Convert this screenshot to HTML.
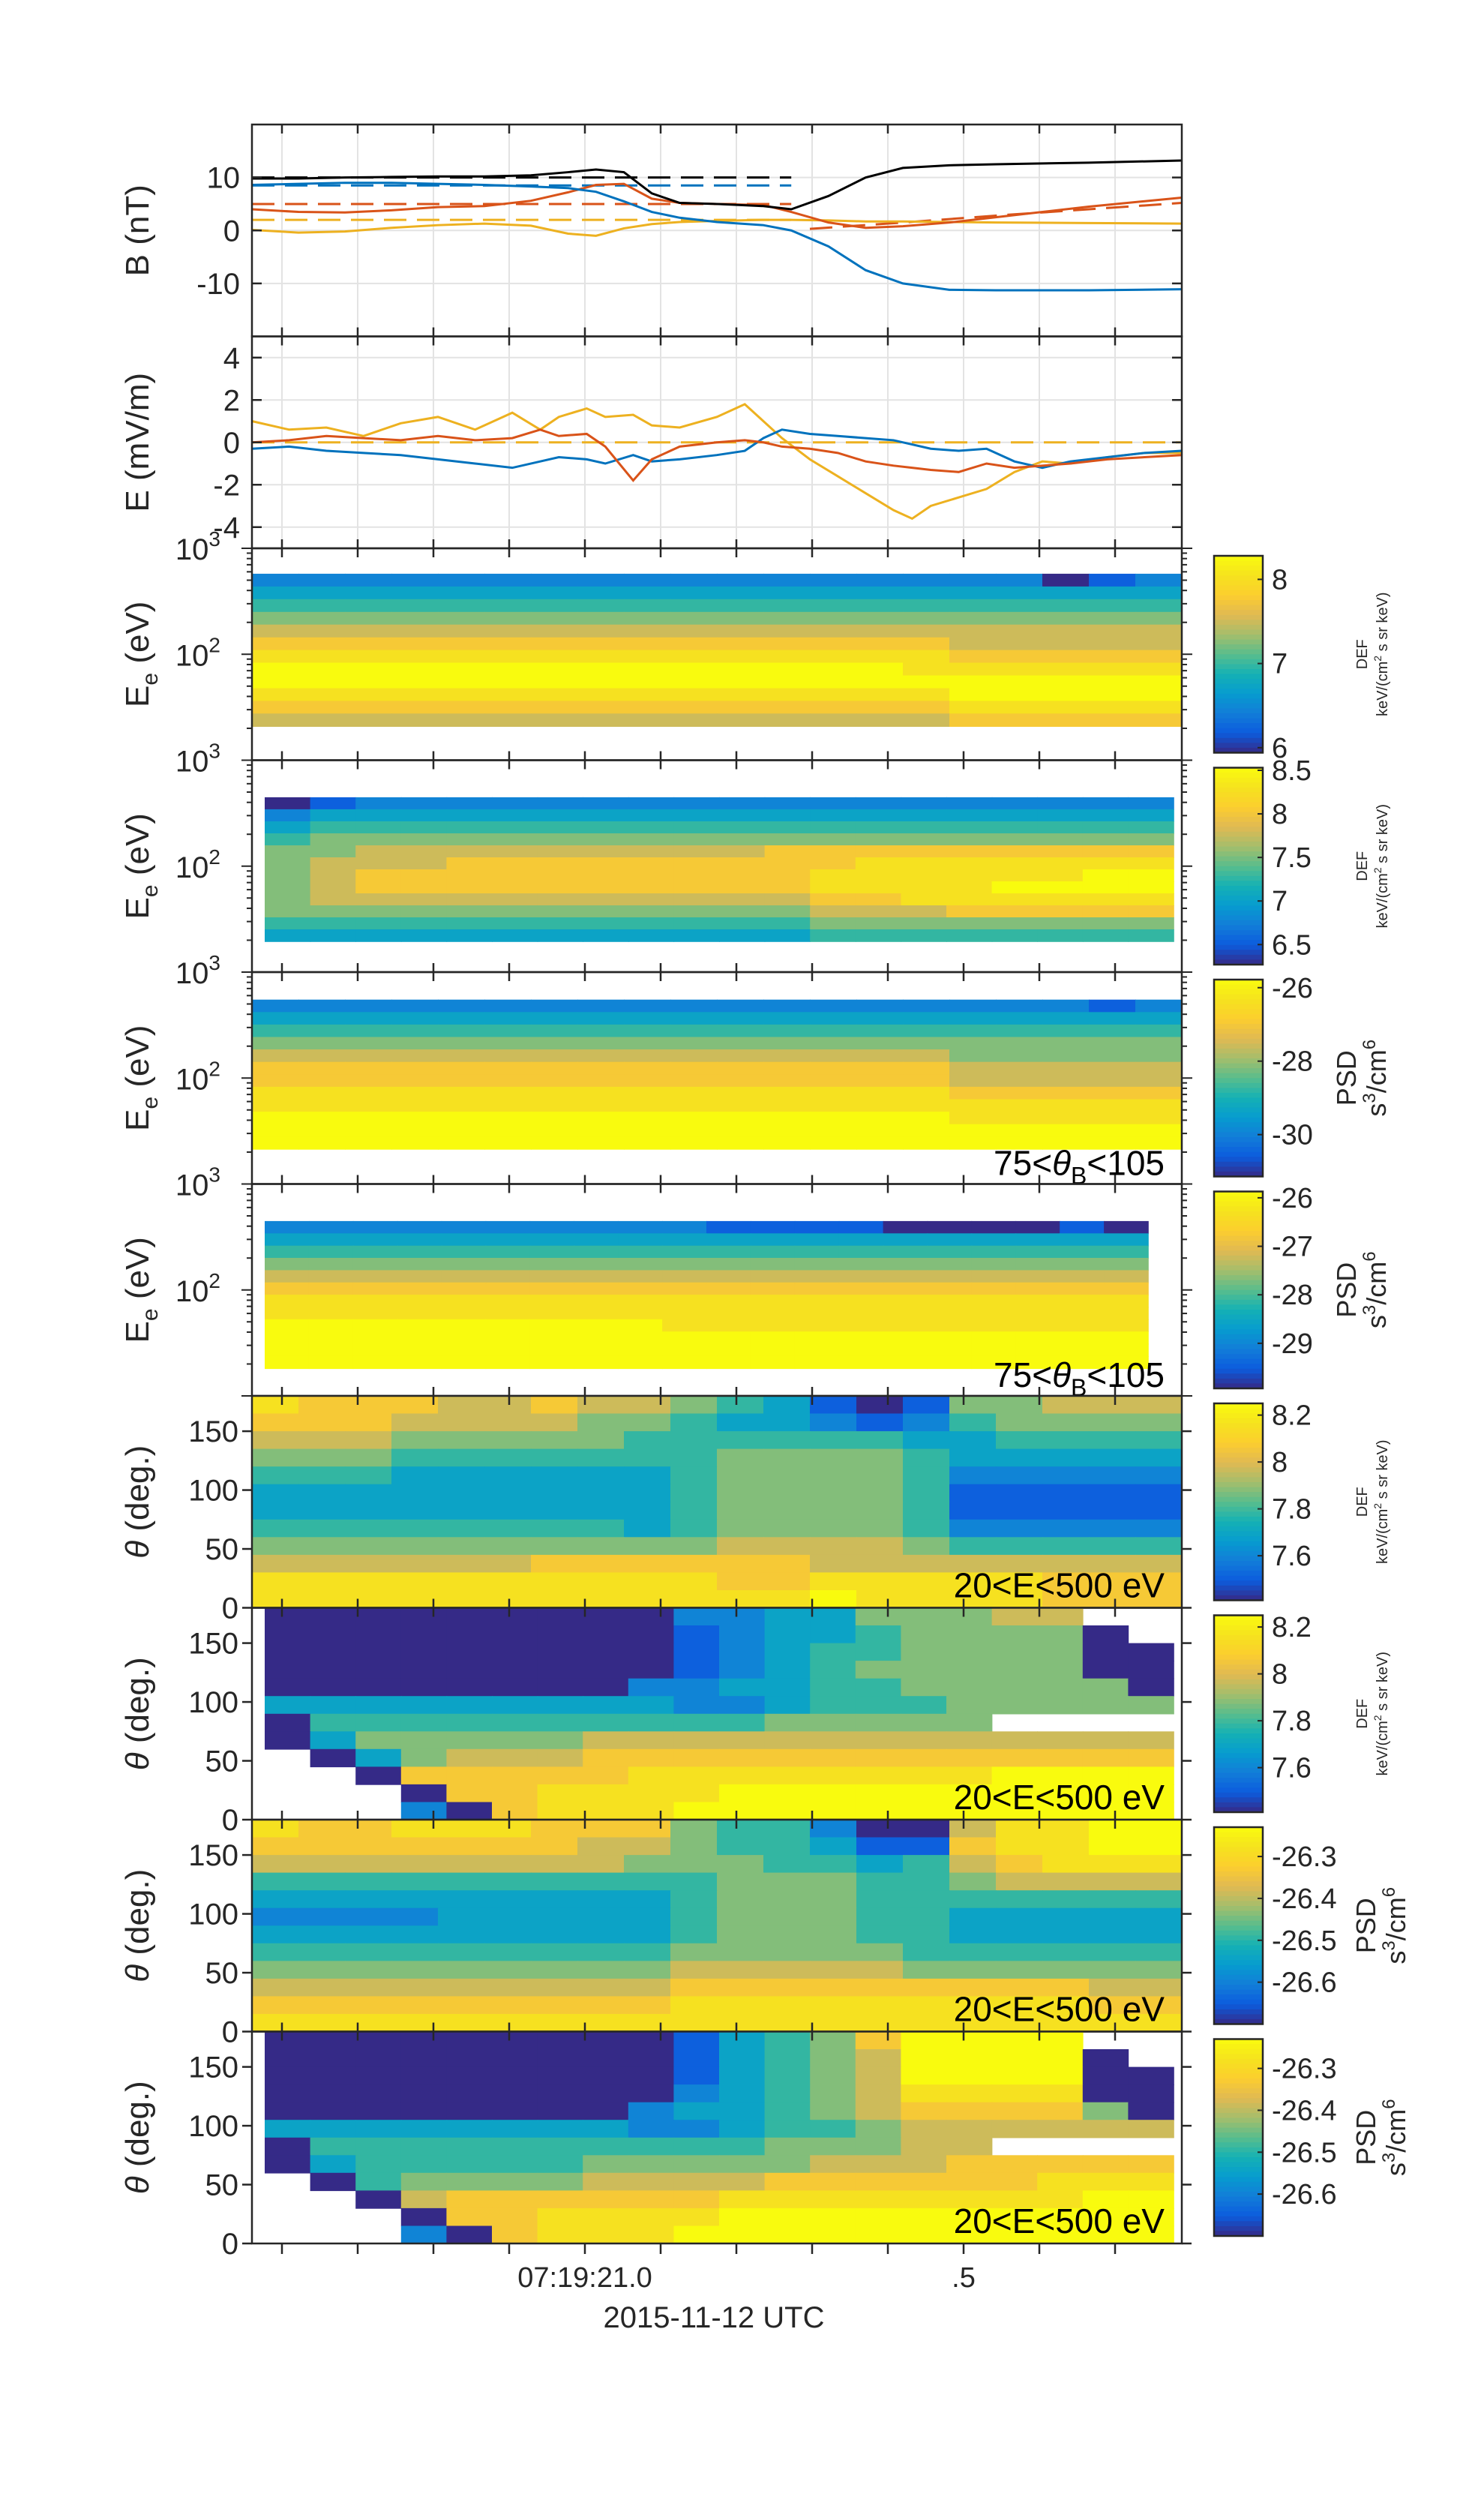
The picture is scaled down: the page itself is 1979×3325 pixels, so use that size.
<!DOCTYPE html>
<html><head><meta charset="utf-8"><title>MMS overview</title>
<style>
html,body{margin:0;padding:0;background:#fff;}
svg{display:block;font-family:"Liberation Sans","DejaVu Sans",sans-serif;}
</style></head>
<body>
<svg id="fig" xmlns="http://www.w3.org/2000/svg" width="1979" height="3325" viewBox="0 0 1979 3325"></svg>
<script>
// ---------- DATA ----------
const bTime = [0,0.05,0.1,0.15,0.2,0.25,0.3,0.34,0.37,0.4,0.43,0.46,0.5,0.55,0.58,0.62,0.66,0.7,0.75,0.8,0.9,1.0];
const bTot  = [9.8,9.8,10,10.1,10.2,10.2,10.4,11,11.5,11,7,5.2,5,4.6,4,6.5,10,11.8,12.3,12.5,12.8,13.2];
const bX    = [8.6,8.8,9,9,8.8,8.6,8.3,8,7.3,5.5,3.5,2.4,1.6,1,0,-3,-7.5,-10,-11.2,-11.3,-11.3,-11.1];
const bY    = [4,3.5,3.4,3.8,4.4,4.6,5.6,7.2,8.6,8.8,6,5.2,5,4.8,3.5,1.5,0.5,0.8,1.5,2.5,4.5,6.2];
const bZ    = [0.1,-0.4,-0.2,0.5,1,1.3,0.9,-0.6,-1,0.4,1.2,1.6,1.8,2,2,1.9,1.7,1.7,1.6,1.5,1.4,1.3];
const bTotRef = [10,10,10,10,10,10,10,10,10,10];
const bXRef   = [8.5,8.5,8.5,8.5,8.5,8.5,8.5,8.5,8.5,8.5];
const bYRef   = [5,5,5,5,5,5,5,5,5,5];
const bZRef   = [2,2,2,2,2,2,2,2,2,2];
const bRefTime= [0,0.06,0.12,0.18,0.24,0.3,0.36,0.42,0.5,0.58];
const bYRef2T = [0.6,0.7,0.8,0.9,1.0];
const bYRef2  = [0.3,1.5,2.8,4,5.2];
const eTime = [0,0.04,0.08,0.12,0.16,0.2,0.24,0.28,0.31,0.33,0.36,0.38,0.41,0.43,0.46,0.5,0.53,0.55,0.57,0.6,0.63,0.66,0.69,0.71,0.73,0.76,0.79,0.82,0.85,0.88,0.92,0.96,1.0];
const eX = [-0.3,-0.2,-0.4,-0.5,-0.6,-0.8,-1.0,-1.2,-0.9,-0.7,-0.8,-1.0,-0.6,-0.9,-0.8,-0.6,-0.4,0.2,0.6,0.4,0.3,0.2,0.1,-0.1,-0.3,-0.4,-0.3,-0.9,-1.2,-0.9,-0.7,-0.5,-0.4];
const eY = [0,0.1,0.3,0.2,0.1,0.3,0.1,0.2,0.6,0.3,0.4,-0.2,-1.8,-0.8,-0.2,0,0.1,0,-0.2,-0.3,-0.5,-0.9,-1.1,-1.2,-1.3,-1.4,-1.0,-1.2,-1.1,-1.0,-0.8,-0.7,-0.6];
const eZ = [1,0.6,0.7,0.3,0.9,1.2,0.6,1.4,0.6,1.2,1.6,1.2,1.3,0.8,0.7,1.2,1.8,1.0,0.2,-0.8,-1.6,-2.4,-3.2,-3.6,-3.0,-2.6,-2.2,-1.4,-0.9,-1.0,-0.7,-0.5,-0.5];
const eRefT = [0,0.1,0.2,0.3,0.4,0.5,0.6,0.7,0.8,0.9,1.0];
const eRef  = [0,0,0,0,0,0,0,0,0,0,0];
const xTickLabels = ["","","","","07:19:21.0","","","","",".5","",""];
const spec3 = [
"22222222222222222012","33333333333333333333","44444444444444444444","55555555555555555555",
"66666666666666666666","77777777777777766666","88888888888888877777","99999999999999888888",
"99999999999999999999","88888888888888899999","77777777777777788888","66666666666666677777"];
const spec4 = [
"01222222222222222222","23333333333333333333","34444444444444444444","45555555555555555555",
"55666666666777777777","56667777777778888888","56777777777788888899","56777777777788889999",
"56666666666677888888","55555555555566677777","44444444444455555555","33333333333344444444"];
const spec5 = [
"22222222222222222212","33333333333333333333","44444444444444444444","55555555555555555555",
"66666666666666655555","77777777777777766666","77777777777777766666","88888888888888877777",
"88888888888888888888","99999999999999988888","99999999999999999999","99999999999999999999"];
const spec6 = [
"22222222221111000010","33333333333333333333","44444444444444444444","55555555555555555555",
"66666666666666666666","77777777777777777777","88888888888888888888","88888888888888888888",
"99999999988888888888","99999999999999999999","99999999999999999999","99999999999999999999"];
const pad7 = [
"87776676654310155666","77766665543321245555","66655555444444334444","55544444445555433333",
"44433333345555422222","33333333345555411111","33333333345555411111","44444444345555422222",
"55555555556666544444","66666677777766666666","88888888887788888777","88888888888898888777"];
const pad8 = [
"000000000223355566..","0000000001233455550.","00000000012344555500","00000000012345555500",
"00000000223344555550","33333333322344455555","0444444444455555....","03555556666666666666",
".0356667777777777777","..077777888888889999","...07788889999999999","...20788899999999999"];
const pad9 = [
"87788877754420068899","77777776654431178899","66666666555443467888","44444444445554456666",
"33333333345554444444","22223333345554433333","33333333345554433333","44444444455555444444",
"55555555566666555555","66666666677777777766","77777777788888888877","88888888888888888888"];
const pad10 = [
"000000000134579999..","0000000001345699990.","00000000013456999900","00000000023456888800",
"00000000233456777750","33333333223445666666","0444444444455566....","03444445555566677777",
".0455556666777777888","..067777778888888899","...07788889999999999","...20788899999999999"];
const spec3Range = [1.32,2.76], spec4Range=[1.29,2.65], spec5Range=[1.33,2.74], spec6Range=[1.26,2.65];
const cb1Lim=[5.94,8.28], cb1Ticks=[6,7,8];
const cb2Lim=[6.27,8.53], cb2Ticks=[6.5,7,7.5,8,8.5];
const cb3Lim=[-31.14,-25.78], cb3Ticks=[-30,-28,-26];
const cb4Lim=[-29.93,-25.87], cb4Ticks=[-29,-28,-27,-26];
const cb5Lim=[7.41,8.25], cb5Ticks=[7.6,7.8,8,8.2];
const cb6Lim=[7.41,8.25], cb6Ticks=[7.6,7.8,8,8.2];
const cb7Lim=[-26.70,-26.23], cb7Ticks=[-26.6,-26.5,-26.4,-26.3];
const cb8Lim=[-26.70,-26.23], cb8Ticks=[-26.6,-26.5,-26.4,-26.3];

// ---------- LAYOUT ----------
const NS="http://www.w3.org/2000/svg";
const svgRoot=document.getElementById('fig');
const L=336,R=1576,PH=282.5,TOP0=166;
const pTop=i=>TOP0+PH*i;
const XT0=376,XTS=101;
function mk(tag,attrs,parent){const e=document.createElementNS(NS,tag);for(const k in attrs)e.setAttribute(k,attrs[k]);(parent||svgRoot).appendChild(e);return e;}
function txt(s,x,y,size,anchor,parent,extra){const t=mk('text',Object.assign({x:x,y:y,'font-size':size,'text-anchor':anchor||'middle',fill:'#262626'},extra||{}),parent);t.textContent=s;return t;}
const stops=[[53,42,135],[12,92,222],[18,125,216],[7,156,207],[21,177,180],[89,189,140],[165,190,107],[225,185,82],[252,206,46],[245,227,30],[249,251,14]];
function parula(f){f=Math.max(0,Math.min(1,f));const p=f*10,i=Math.min(9,Math.floor(p)),t=p-i;const a=stops[i],b=stops[i+1];return 'rgb('+a.map((v,k)=>Math.round(v+(b[k]-v)*t)).join(',')+')';}

function linePanel(idx,ymin,ymax,yticks,label,series,pname){
  const g=mk('g',{});
  
  
  const y0=pTop(idx),y1=pTop(idx+1);
  const sx=t=>L+t*(R-L), sy=v=>y1-(v-ymin)/(ymax-ymin)*(y1-y0);
  for(let k=0;k<12;k++){const x=XT0+XTS*k;mk('line',{x1:x,x2:x,y1:y0,y2:y1,stroke:'#e3e3e3','stroke-width':2},g);}
  yticks.forEach(v=>{mk('line',{x1:L,x2:R,y1:sy(v),y2:sy(v),stroke:'#e3e3e3','stroke-width':2},g);});
  series.forEach(s=>{
    const p=mk('polyline',{points:s.t.map((t,i)=>sx(t)+','+sy(s.v[i])).join(' '),fill:'none',stroke:s.c,'stroke-width':3,'stroke-dasharray':s.d||'none'},g);
    
    
  });
  mk('rect',{x:L,y:y0,width:R-L,height:y1-y0,fill:'none',stroke:'#262626','stroke-width':2.5},g);
  for(let k=0;k<12;k++){const x=XT0+XTS*k;mk('line',{x1:x,x2:x,y1:y0,y2:y0+12,stroke:'#262626','stroke-width':2.5},g);mk('line',{x1:x,x2:x,y1:y1,y2:y1-12,stroke:'#262626','stroke-width':2.5},g);}
  yticks.forEach(v=>{mk('line',{x1:L,x2:L+13,y1:sy(v),y2:sy(v),stroke:'#262626','stroke-width':2.5},g);mk('line',{x1:R,x2:R-13,y1:sy(v),y2:sy(v),stroke:'#262626','stroke-width':2.5},g);
    txt(String(v),L-16,sy(v)+14,40,'end',g);});
  const lb=txt(label,0,0,44,'middle',g,{transform:'translate(198,'+((y0+y1)/2)+') rotate(-90)'});
  
  
}
const BLU='#0072BD',RED='#D95319',YEL='#EDB120';
linePanel(0,-20,20,[-10,0,10],'B (nT)',[
 {t:bRefTime,v:bTotRef,c:'#000',d:'30 14',n:'b-total-model'},
 {t:bRefTime,v:bXRef,c:BLU,d:'30 14',n:'bx-model'},
 {t:bRefTime,v:bYRef,c:RED,d:'30 14',n:'by-model'},
 {t:bYRef2T,v:bYRef2,c:RED,d:'30 14',n:'by-model-2'},
 {t:bRefTime,v:bZRef,c:YEL,d:'30 14',n:'bz-model'},
 {t:bTime,v:bZ,c:YEL,n:'bz-line'},{t:bTime,v:bY,c:RED,n:'by-line'},
 {t:bTime,v:bX,c:BLU,n:'bx-line'},{t:bTime,v:bTot,c:'#000',n:'b-total-line'}],'b-field-panel');
linePanel(1,-5,5,[-4,-2,0,2,4],'E (mV/m)',[
 {t:eRefT,v:eRef,c:YEL,d:'30 14',n:'e-model'},
 {t:eTime,v:eZ,c:YEL,n:'ez-line'},{t:eTime,v:eX,c:BLU,n:'ex-line'},{t:eTime,v:eY,c:RED,n:'ey-line'}],'e-field-panel');

function axesFrame(g,idx,isEnergy,bottomLabels){
  const y0=pTop(idx),y1=pTop(idx+1);
  mk('rect',{x:L,y:y0,width:R-L,height:y1-y0,fill:'none',stroke:'#262626','stroke-width':2.5},g);
  for(let k=0;k<12;k++){const x=XT0+XTS*k;mk('line',{x1:x,x2:x,y1:y0,y2:y0+12,stroke:'#262626','stroke-width':2.5},g);
    if(bottomLabels)mk('line',{x1:x,x2:x,y1:y1,y2:y1+14,stroke:'#262626','stroke-width':2.5},g);
    else mk('line',{x1:x,x2:x,y1:y1,y2:y1-12,stroke:'#262626','stroke-width':2.5},g);}
  if(isEnergy){
    const sy=l=>y1-(l-1)/2*(y1-y0);
    for(let d=1;d<=2;d++)for(let m=1;m<=9;m++){const l=d+Math.log10(m);const len=m==1?14:7;
      mk('line',{x1:L-len,x2:L,y1:sy(l),y2:sy(l),stroke:'#262626','stroke-width':2},g);
      mk('line',{x1:R,x2:R+len,y1:sy(l),y2:sy(l),stroke:'#262626','stroke-width':2},g);}
    mk('line',{x1:L-14,x2:L,y1:y0,y2:y0,stroke:'#262626','stroke-width':2},g);
    mk('line',{x1:R,x2:R+14,y1:y0,y2:y0,stroke:'#262626','stroke-width':2},g);
    [[2,sy(2)],[3,y0]].forEach(pr=>{const t=txt('10',L-42,pr[1]+15,40,'end',g);const s=mk('tspan',{'font-size':28,dy:-18},t);s.textContent=String(pr[0]);});
    const lb=mk('text',{'font-size':44,'text-anchor':'middle',fill:'#262626',transform:'translate(198,'+((y0+y1)/2)+') rotate(-90)'},g);
    lb.textContent='E';const sb=mk('tspan',{'font-size':30,dy:12},lb);sb.textContent='e';const r=mk('tspan',{dy:-12},lb);r.textContent=' (eV)';
  } else {
    const sy=v=>y1-v/180*(y1-y0);
    [0,50,100,150].forEach(v=>{mk('line',{x1:L-13,x2:L,y1:sy(v),y2:sy(v),stroke:'#262626','stroke-width':2.5},g);
      mk('line',{x1:R,x2:R+13,y1:sy(v),y2:sy(v),stroke:'#262626','stroke-width':2.5},g);
      txt(String(v),L-18,sy(v)+14,40,'end',g);});
    const lb=mk('text',{'font-size':44,'text-anchor':'middle',fill:'#262626',transform:'translate(198,'+((y0+y1)/2)+') rotate(-90)'},g);
    const th=mk('tspan',{'font-style':'italic'},lb);th.textContent='θ';const r=mk('tspan',{},lb);r.textContent=' (deg.)';
  }
}
function drawGrid(g,grid,x0,x1,yb,yt,pname){
  const rows=grid.length,cols=grid[0].length,cw=(x1-x0)/cols,rh=(yb-yt)/rows;
  grid.forEach((row,r)=>{for(let c=0;c<cols;c++){const ch=row[c];if(ch==='.'||ch===undefined)continue;
    const cell=mk('rect',{x:(x0+c*cw).toFixed(1),y:(yt+r*rh).toFixed(1),width:(cw+0.8).toFixed(1),height:(rh+0.8).toFixed(1),fill:parula(+ch/9)},g);
    
    }});
}
function specPanel(idx,grid,range,x0,x1,pname,inLabel){
  const g=mk('g',{});
  
  
  const y0=pTop(idx),y1=pTop(idx+1);
  const sy=l=>y1-(l-1)/2*(y1-y0);
  drawGrid(g,grid,x0,x1,sy(range[0]),sy(range[1]),pname);
  axesFrame(g,idx,true,false);
  if(inLabel){const t=mk('text',{x:1553,y:y1-12,'font-size':46,'text-anchor':'end',fill:'#000'},g);
    const a=mk('tspan',{},t);a.textContent='75<';const b=mk('tspan',{'font-style':'italic'},t);b.textContent='θ';
    const c=mk('tspan',{'font-size':32,dy:12},t);c.textContent='B';const d=mk('tspan',{dy:-12},t);d.textContent='<105';}
}
function padPanel(idx,grid,x0,x1,pname,last){
  const g=mk('g',{});
  
  
  const y0=pTop(idx),y1=pTop(idx+1);
  drawGrid(g,grid,x0,x1,y1,y0,pname);
  axesFrame(g,idx,false,last);
  txt('20<E<500 eV',1553,y1-14,46,'end',g,{fill:'#000'});
}
const XA=353,XB=1565,XC=1531;
specPanel(2,spec3,spec3Range,L,R,'electron-energy-def-omni',false);
specPanel(3,spec4,spec4Range,XA,XB,'electron-energy-def-model',false);
specPanel(4,spec5,spec5Range,L,R,'electron-energy-psd-perp',true);
specPanel(5,spec6,spec6Range,XA,XC,'electron-energy-psd-perp-model',true);
padPanel(6,pad7,L,R,'pitch-angle-def',false);
padPanel(7,pad8,XA,XB,'pitch-angle-def-model',false);
padPanel(8,pad9,L,R,'pitch-angle-psd',false);
padPanel(9,pad10,XA,XB,'pitch-angle-psd-model',true);

const bot=pTop(10);
xTickLabels.forEach((s,k)=>{if(s){const t=txt(s,XT0+XTS*k,bot+58,38,'middle');
  
  }});
const xt=txt('2015-11-12 UTC',952,bot+112,40,'middle');



function colorbar(idx,lim,ticks,kind,pname,shift){
  const g=mk('g',{});
  
  
  const y0=pTop(idx)+10,y1=pTop(idx+1)-10,x0=1619,x1=1684;
  const n=40;for(let i=0;i<n;i++){mk('rect',{x:x0,y:(y0+(y1-y0)*i/n).toFixed(1),width:x1-x0,height:((y1-y0)/n+0.8).toFixed(1),fill:parula(1-(i+0.5)/n)},g);}
  mk('rect',{x:x0,y:y0,width:x1-x0,height:y1-y0,fill:'none',stroke:'#262626','stroke-width':2.5},g);
  ticks.forEach(v=>{const y=y0+(lim[1]-v)/(lim[1]-lim[0])*(y1-y0);
    mk('line',{x1:x1,x2:x1-7,y1:y,y2:y,stroke:'#262626','stroke-width':2},g);
    txt(String(v),x1+12,y+13,38,'start',g);});
  const cy=(y0+y1)/2, sh=shift||0;
  if(kind==='def'){
    txt('DEF',0,0,20,'middle',g,{transform:'translate('+(1823+sh)+','+cy+') rotate(-90)'});
    const t=mk('text',{'font-size':20,'text-anchor':'middle',fill:'#262626',transform:'translate('+(1850+sh)+','+cy+') rotate(-90)'},g);
    const a=mk('tspan',{},t);a.textContent='keV/(cm';const b=mk('tspan',{'font-size':14,dy:-8},t);b.textContent='2';const c=mk('tspan',{dy:8},t);c.textContent=' s sr keV)';
  } else {
    txt('PSD',0,0,36,'middle',g,{transform:'translate('+(1808+sh)+','+cy+') rotate(-90)'});
    const t=mk('text',{'font-size':36,'text-anchor':'middle',fill:'#262626',transform:'translate('+(1848+sh)+','+cy+') rotate(-90)'},g);
    const a=mk('tspan',{},t);a.textContent='s';const b=mk('tspan',{'font-size':24,dy:-14},t);b.textContent='3';
    const c=mk('tspan',{dy:14},t);c.textContent='/cm';const d=mk('tspan',{'font-size':24,dy:-14},t);d.textContent='6';
  }
}
colorbar(2,cb1Lim,cb1Ticks,'def','colorbar-def-omni',0);
colorbar(3,cb2Lim,cb2Ticks,'def','colorbar-def-model',0);
colorbar(4,cb3Lim,cb3Ticks,'psd','colorbar-psd-perp',0);
colorbar(5,cb4Lim,cb4Ticks,'psd','colorbar-psd-perp-model',0);
colorbar(6,cb5Lim,cb5Ticks,'def','colorbar-pad-def',0);
colorbar(7,cb6Lim,cb6Ticks,'def','colorbar-pad-def-model',0);
colorbar(8,cb7Lim,cb7Ticks,'psd','colorbar-pad-psd',26);
colorbar(9,cb8Lim,cb8Ticks,'psd','colorbar-pad-psd-model',26);
</script>
</body></html>
